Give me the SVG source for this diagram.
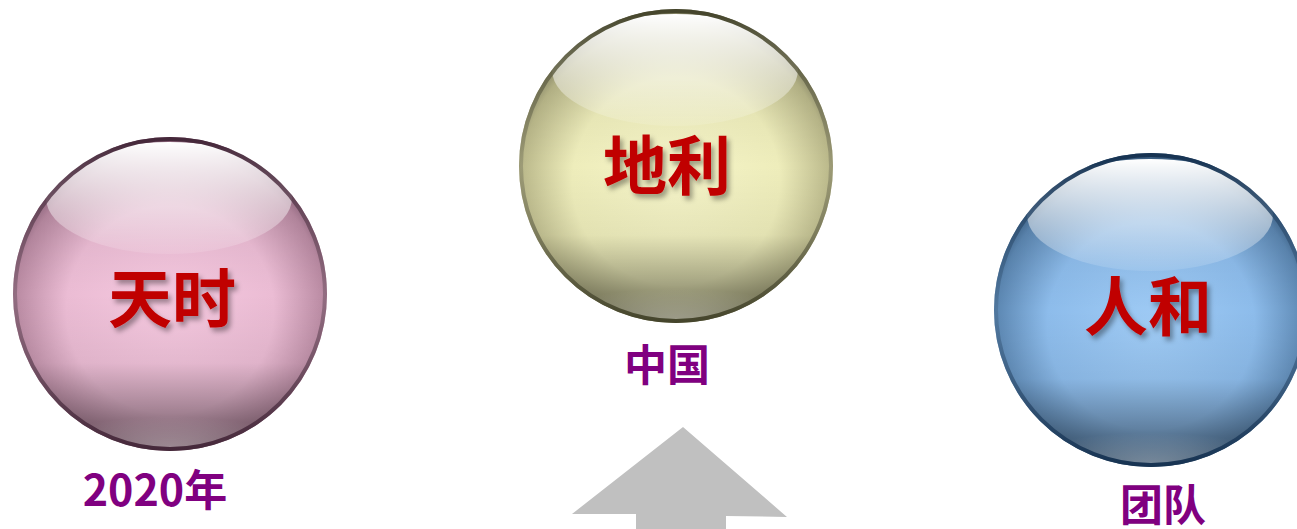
<svg xmlns="http://www.w3.org/2000/svg" width="1297" height="529" viewBox="0 0 1297 529">
<defs>
<style>
.title{font-family:"Noto Sans CJK SC","Noto Sans",sans-serif;font-weight:700;font-size:64px;fill:#C00000;text-anchor:middle;filter:url(#ts)}
.sub{font-family:"Noto Sans CJK SC","Noto Sans",sans-serif;font-weight:700;font-size:43px;fill:#800080;text-anchor:middle}
.hl{fill:url(#hl)}
.shade{fill:url(#shade)}
</style>
<filter id="ts" x="-20%" y="-20%" width="150%" height="150%">
<feDropShadow dx="3" dy="4" stdDeviation="2.5" flood-color="#000" flood-opacity="0.35"/>
</filter>
<linearGradient id="hl" x1="0" y1="0" x2="0" y2="1">
<stop offset="0" stop-color="#fff" stop-opacity="1"/>
<stop offset="0.35" stop-color="#fff" stop-opacity="0.7"/>
<stop offset="1" stop-color="#fff" stop-opacity="0.1"/>
</linearGradient>
<linearGradient id="shade" x1="0" y1="0" x2="0" y2="1">
<stop offset="0" stop-color="#000" stop-opacity="0.1"/>
<stop offset="0.5" stop-color="#000" stop-opacity="0"/>
<stop offset="0.72" stop-color="#000" stop-opacity="0.05"/>
<stop offset="0.9" stop-color="#000" stop-opacity="0.35"/>
<stop offset="1" stop-color="#000" stop-opacity="0.45"/>
</linearGradient>
<linearGradient id="rimP" x1="0" y1="0" x2="0" y2="1"><stop offset="0" stop-color="#45283A"/><stop offset="0.5" stop-color="#7A5A6C" stop-opacity="0.6"/><stop offset="1" stop-color="#45283A"/></linearGradient>
<linearGradient id="rimY" x1="0" y1="0" x2="0" y2="1"><stop offset="0" stop-color="#45452C"/><stop offset="0.5" stop-color="#8A896A" stop-opacity="0.6"/><stop offset="1" stop-color="#45452C"/></linearGradient>
<linearGradient id="rimB" x1="0" y1="0" x2="0" y2="1"><stop offset="0" stop-color="#173352"/><stop offset="0.5" stop-color="#4A6F94" stop-opacity="0.6"/><stop offset="1" stop-color="#173352"/></linearGradient>
<radialGradient id="pk" cx="0.5" cy="0.55" r="0.55">
<stop offset="0" stop-color="#F5C8DF"/>
<stop offset="0.6" stop-color="#EBBCD4"/>
<stop offset="0.9" stop-color="#B98AA2"/>
<stop offset="1" stop-color="#8A6079"/>
</radialGradient>
<radialGradient id="yl" cx="0.5" cy="0.55" r="0.55">
<stop offset="0" stop-color="#F5F4C8"/>
<stop offset="0.6" stop-color="#EEEDBB"/>
<stop offset="0.9" stop-color="#BAB88A"/>
<stop offset="1" stop-color="#838264"/>
</radialGradient>
<radialGradient id="bl" cx="0.5" cy="0.55" r="0.55">
<stop offset="0" stop-color="#9FCBF5"/>
<stop offset="0.6" stop-color="#8DBCEB"/>
<stop offset="0.9" stop-color="#5C87B2"/>
<stop offset="1" stop-color="#365B80"/>
</radialGradient>
<radialGradient id="refl" cx="0.5" cy="1" r="0.6">
<stop offset="0" stop-color="#fff" stop-opacity="0.3"/>
<stop offset="1" stop-color="#fff" stop-opacity="0"/>
</radialGradient>
</defs>

<g id="connectors">
<polygon points="683,427 787,517 726,516 726,529 636,529 636,514 572,514" fill="#C0C0C0"/>
</g>

<g id="node-tianshi">
<circle cx="170" cy="294" r="157" fill="url(#pk)"/>
<circle cx="170" cy="294" r="157" class="shade"/>
<ellipse cx="170" cy="422" rx="110" ry="26" fill="url(#refl)"/>
<ellipse cx="169" cy="198" rx="123" ry="56" class="hl"/>
<circle cx="170" cy="294" r="155" fill="none" stroke="url(#rimP)" stroke-width="4"/>
<text class="title" x="172" y="322">天时</text>
<text class="sub" x="155" y="506">2020年</text>
</g>

<g id="node-dili">
<circle cx="676" cy="166" r="157" fill="url(#yl)"/>
<circle cx="676" cy="166" r="157" class="shade"/>
<ellipse cx="676" cy="294" rx="110" ry="26" fill="url(#refl)"/>
<ellipse cx="675" cy="70" rx="123" ry="56" class="hl"/>
<circle cx="676" cy="166" r="155" fill="none" stroke="url(#rimY)" stroke-width="4"/>
<text class="title" x="667" y="189">地利</text>
<text class="sub" x="667" y="381">中国</text>
</g>

<g id="node-renhe">
<circle cx="1151" cy="310" r="157" fill="url(#bl)"/>
<circle cx="1151" cy="310" r="157" class="shade"/>
<ellipse cx="1151" cy="438" rx="110" ry="26" fill="url(#refl)"/>
<ellipse cx="1150" cy="215" rx="123" ry="56" class="hl"/>
<circle cx="1151" cy="310" r="155" fill="none" stroke="url(#rimB)" stroke-width="4"/>
<text class="title" x="1148" y="330">人和</text>
<text class="sub" x="1163" y="521">团队</text>
</g>
</svg>
